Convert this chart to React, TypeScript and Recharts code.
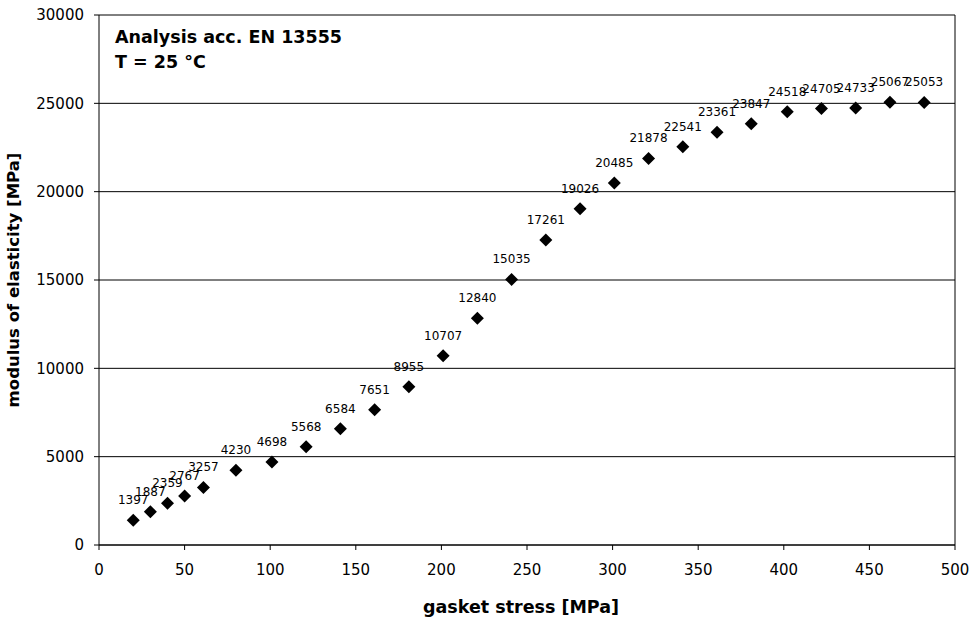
import React from 'react';
import {
  ScatterChart,
  Scatter,
  XAxis,
  YAxis,
  CartesianGrid,
  ReferenceLine,
  LabelList,
} from 'recharts';

// gasket stress [MPa]
const stressValues = [20, 30, 40, 50, 61, 80, 101, 121, 141, 161, 181, 201, 221, 241, 261, 281, 301, 321, 341, 361, 381, 402, 422, 442, 462, 482];
// modulus of elasticity [MPa]
const modulusValues = [1397, 1887, 2359, 2767, 3257, 4230, 4698, 5568, 6584, 7651, 8955, 10707, 12840, 15035, 17261, 19026, 20485, 21878, 22541, 23361, 23847, 24518, 24705, 24733, 25067, 25053];

const xTicks = [0, 50, 100, 150, 200, 250, 300, 350, 400, 450, 500];
const yTicks = [0, 5000, 10000, 15000, 20000, 25000, 30000];

const data = stressValues.map((s, i) => ({ stress: s, modulus: modulusValues[i] }));

const FONT = '"DejaVu Sans", Arial, sans-serif';

const Diamond = (props: any) => {
  const { cx, cy } = props;
  const r = 6.5;
  return (
    <polygon
      points={`${cx},${cy - r} ${cx + r},${cy} ${cx},${cy + r} ${cx - r},${cy}`}
      fill="#000"
    />
  );
};

const PointLabel = (props: any) => {
  const { x, y, width, height, value } = props;
  const cx = x + width / 2;
  const cy = y + height / 2;
  return (
    <text x={cx} y={cy - 16} textAnchor="middle" fontSize={12} fill="#000" fontFamily={FONT}>
      {value}
    </text>
  );
};

const App: React.FC = () => {
  return (
    <div style={{ position: 'absolute', left: 0, top: 0, width: 975, height: 619, background: '#fff' }}>
      <ScatterChart width={975} height={619} margin={{ top: 15, right: 20, left: 39, bottom: 0 }}>
        <CartesianGrid horizontal vertical={false} stroke="#000" strokeWidth={1} />
        <XAxis
          type="number"
          dataKey="stress"
          domain={[0, 500]}
          ticks={xTicks}
          interval={0}
          tick={{ fontSize: 15, fill: '#000', fontFamily: FONT }}
          tickLine={{ stroke: '#000' }}
          axisLine={{ stroke: '#000' }}
          tickSize={5}
          tickMargin={14}
          height={74}
          label={{ value: 'gasket stress [MPa]', position: 'insideBottom', offset: 6, dx: -6, style: { fontSize: 17.5, fontWeight: 'bold', fill: '#000', fontFamily: FONT } }}
        />
        <YAxis
          type="number"
          dataKey="modulus"
          domain={[0, 30000]}
          ticks={yTicks}
          interval={0}
          tick={{ fontSize: 15, fill: '#000', fontFamily: FONT }}
          tickLine={{ stroke: '#000' }}
          axisLine={{ stroke: '#000' }}
          tickSize={5}
          tickMargin={10}
          width={60}
          label={{ value: 'modulus of elasticity [MPa]', angle: -90, position: 'center', dx: -56, style: { fontSize: 16.5, fontWeight: 'bold', fill: '#000', fontFamily: FONT, textAnchor: 'middle' } }}
        />
        <ReferenceLine x={500} stroke="#000" />
        <Scatter data={data} shape={<Diamond />} isAnimationActive={false}>
          <LabelList dataKey="modulus" content={<PointLabel />} />
        </Scatter>
        <text x={115} y={43} fontSize={17.5} fontWeight="bold" fontFamily={FONT} fill="#000">
          Analysis acc. EN 13555
        </text>
        <text x={115} y={68} fontSize={17.5} fontWeight="bold" fontFamily={FONT} fill="#000">
          T = 25 °C
        </text>
      </ScatterChart>
    </div>
  );
};

export default App;
